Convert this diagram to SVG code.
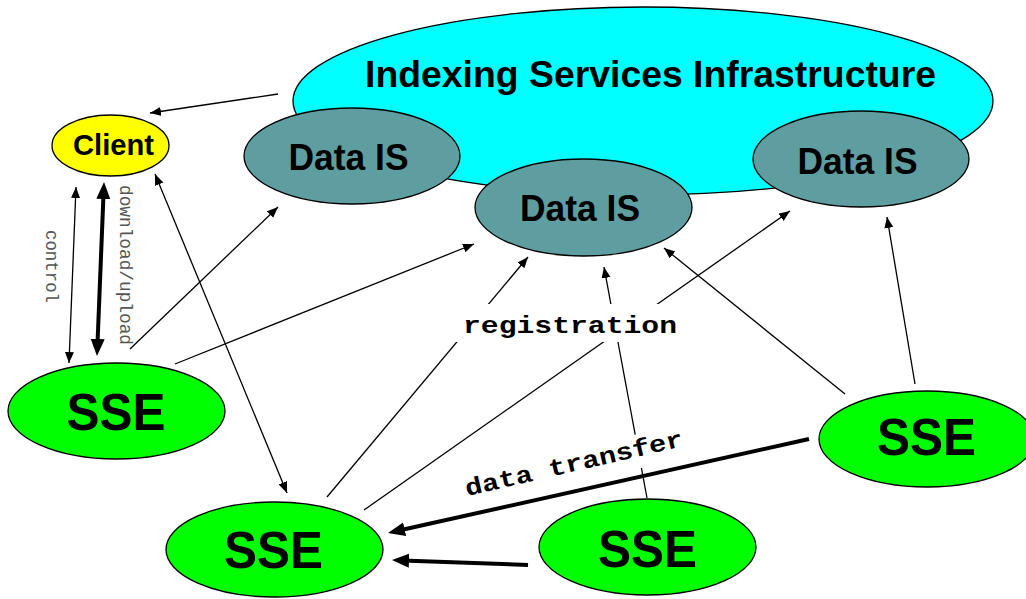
<svg xmlns="http://www.w3.org/2000/svg" width="1026" height="599" viewBox="0 0 1026 599">
<defs>
<marker id="thin" markerUnits="userSpaceOnUse" markerWidth="12" markerHeight="10" refX="11" refY="4.5" orient="auto-start-reverse" viewBox="0 0 12 10"><path d="M0,0 L11,4.5 L0,9 z" fill="#000"/></marker>
<marker id="thick" markerUnits="userSpaceOnUse" markerWidth="18" markerHeight="15" refX="7" refY="7" orient="auto-start-reverse" viewBox="0 0 18 15"><path d="M0,0 L17,7 L0,14 z" fill="#000"/></marker>
<style>
.node{stroke:#000;stroke-width:1.3}
.lbl{font-family:"Liberation Sans",Arial,sans-serif;font-weight:bold;fill:#000;text-anchor:middle}
.c{fill:none;stroke:#000;stroke-width:1.3;marker-end:url(#thin)}
.t{fill:none;stroke:#000;stroke-width:4;marker-end:url(#thick)}
.mono{font-family:"Liberation Mono","Courier New",monospace}
</style>
</defs>
<rect width="1026" height="599" fill="#fff"/>
<g id="connectors">
<line class="c" x1="278" y1="94" x2="150" y2="113"/>
<line class="c" x1="76" y1="187" x2="69" y2="363" style="marker-start:url(#thin)"/>
<line class="t" x1="103.6" y1="192" x2="97.4" y2="346" style="marker-start:url(#thick)"/>
<line class="c" x1="130" y1="349" x2="278" y2="207"/>
<line class="c" x1="175" y1="364" x2="474" y2="244"/>
<line class="c" x1="155" y1="174" x2="287" y2="493" style="marker-start:url(#thin)"/>
<line class="c" x1="327" y1="497" x2="528" y2="257"/>
<line class="c" x1="364" y1="510" x2="790" y2="211"/>
<line class="c" x1="647" y1="498" x2="604" y2="267"/>
<line class="c" x1="845" y1="394" x2="664" y2="248"/>
<line class="c" x1="915" y1="384" x2="887" y2="217"/>
<line class="t" x1="809" y1="439" x2="397.8" y2="530.8"/>
<line class="t" x1="528" y1="565" x2="402" y2="560.4"/>
</g>
<g id="labels">
<text class="mono" transform="translate(46,230) rotate(90)" font-size="17.5" fill="#555" textLength="73" lengthAdjust="spacingAndGlyphs">control</text>
<text class="mono" transform="translate(120,185) rotate(90)" font-size="18" fill="#555" textLength="160" lengthAdjust="spacingAndGlyphs">download/upload</text>
<rect x="456" y="304" width="228" height="38" fill="#fff"/>
<text class="mono" x="463" y="333" font-size="24" font-weight="bold" textLength="214" lengthAdjust="spacingAndGlyphs">registration</text>
<g transform="rotate(-13 467 496)">
<rect x="461" y="474" width="234" height="34" fill="#fff"/>
<text class="mono" x="467" y="496" font-size="24" font-weight="bold" textLength="223" lengthAdjust="spacingAndGlyphs">data transfer</text>
</g>
</g>
<g id="isi">
<ellipse class="node" cx="643" cy="101" rx="350" ry="94" fill="#00ffff"/>
<text class="lbl" x="650.5" y="87" font-size="37" textLength="571" lengthAdjust="spacingAndGlyphs">Indexing Services Infrastructure</text>
</g>
<g id="dataIS1">
<ellipse class="node" cx="352" cy="156" rx="108" ry="48" fill="#5f9ea0"/>
<text class="lbl" x="348.5" y="170" font-size="36" textLength="120" lengthAdjust="spacingAndGlyphs">Data IS</text>
</g>
<g id="dataIS2">
<ellipse class="node" cx="583.5" cy="207.5" rx="108.5" ry="48.5" fill="#5f9ea0"/>
<text class="lbl" x="580" y="221" font-size="36" textLength="120" lengthAdjust="spacingAndGlyphs">Data IS</text>
</g>
<g id="dataIS3">
<ellipse class="node" cx="861" cy="159" rx="108" ry="48" fill="#5f9ea0"/>
<text class="lbl" x="857.5" y="173.5" font-size="36" textLength="120" lengthAdjust="spacingAndGlyphs">Data IS</text>
</g>
<g id="client">
<ellipse class="node" cx="110.5" cy="145.5" rx="58.5" ry="30.5" fill="#ffff00"/>
<text class="lbl" x="113.5" y="155" font-size="30" textLength="81" lengthAdjust="spacingAndGlyphs">Client</text>
</g>
<g id="sse1">
<ellipse class="node" cx="116.5" cy="411" rx="108.5" ry="48" fill="#00ff00"/>
<text class="lbl" x="116" y="430" font-size="52" textLength="99" lengthAdjust="spacingAndGlyphs">SSE</text>
</g>
<g id="sse2">
<ellipse class="node" cx="274.5" cy="549.5" rx="108.5" ry="47.5" fill="#00ff00"/>
<text class="lbl" x="273.5" y="568" font-size="52" textLength="99" lengthAdjust="spacingAndGlyphs">SSE</text>
</g>
<g id="sse3">
<ellipse class="node" cx="647.5" cy="547" rx="108.5" ry="48" fill="#00ff00"/>
<text class="lbl" x="647.5" y="567" font-size="52" textLength="99" lengthAdjust="spacingAndGlyphs">SSE</text>
</g>
<g id="sse4">
<ellipse class="node" cx="927" cy="439" rx="108" ry="48" fill="#00ff00"/>
<text class="lbl" x="926.5" y="455" font-size="52" textLength="99" lengthAdjust="spacingAndGlyphs">SSE</text>
</g>
</svg>
